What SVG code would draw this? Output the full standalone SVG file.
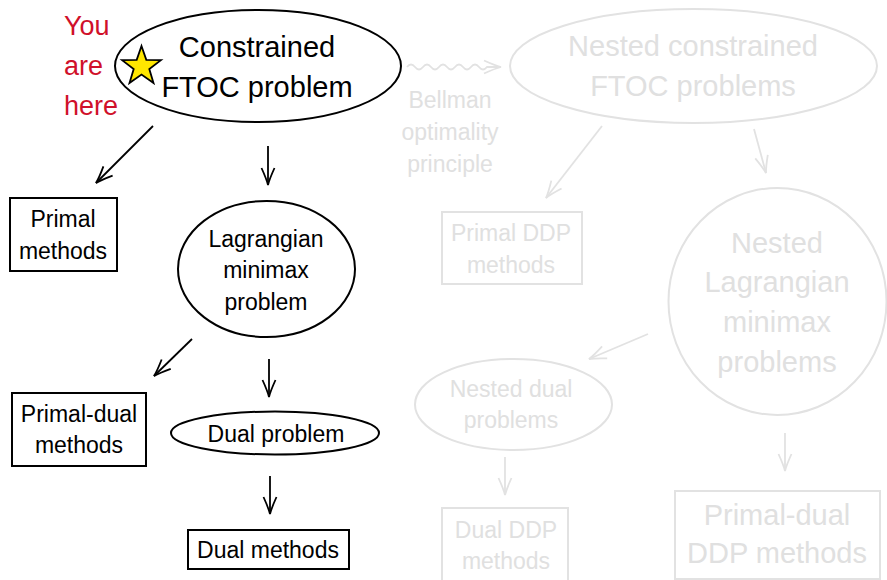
<svg xmlns="http://www.w3.org/2000/svg" width="887" height="580" viewBox="0 0 887 580">
<style>
text{font-family:"Liberation Sans",Arial,sans-serif;text-anchor:middle;}
.b{fill:#000;font-size:23px;}
.B{fill:#000;font-size:29px;}
.g{fill:#e0e0e0;font-size:23px;}
.G{fill:#e0e0e0;font-size:29px;}
.red{fill:#d0102a;font-size:27px;text-anchor:start;}
.sk{fill:#fff;stroke:#000;stroke-width:2;}
.sg{fill:none;stroke:#e2e2e2;stroke-width:2;}
.ak{fill:none;stroke:#000;stroke-width:1.8;marker-end:url(#ak);}
.ag{fill:none;stroke:#e2e2e2;stroke-width:1.8;marker-end:url(#ag);}
</style>
<defs>
<marker id="ak" markerUnits="userSpaceOnUse" viewBox="-18 -9 20 18" refX="0" refY="0" markerWidth="20" markerHeight="18" orient="auto">
<path d="M-17,-6.5 Q-6,-1.5 0,0 Q-6,1.5 -17,6.5" fill="none" stroke="#000" stroke-width="1.8"/>
</marker>
<marker id="ag" markerUnits="userSpaceOnUse" viewBox="-18 -9 20 18" refX="0" refY="0" markerWidth="20" markerHeight="18" orient="auto">
<path d="M-17,-6.5 Q-6,-1.5 0,0 Q-6,1.5 -17,6.5" fill="none" stroke="#e2e2e2" stroke-width="1.8"/>
</marker>
</defs>
<rect width="887" height="580" fill="#fff"/>

<g id="connectors">
<path class="ak" d="M153,126 L96,183"/>
<path class="ak" d="M268,146 L268,185"/>
<path class="ak" d="M192,339 L154,376"/>
<path class="ak" d="M269,359 L269,397"/>
<path class="ak" d="M270,476 L270,514"/>
<path class="ag" d="M407,67 q4,-5 8,0 t8,0 t8,0 t8,0 t8,0 t8,0 t8,0 t8,0 t8,0 t8,0 L501,67"/>
<path class="ag" d="M602,126 L546,198"/>
<path class="ag" d="M754,129 L766,173"/>
<path class="ag" d="M648,334 L589,359"/>
<path class="ag" d="M505,457 L505,495"/>
<path class="ag" d="M785,433 L785,471"/>
</g>

<g id="you-are-here">
<text class="red" x="64" y="35">You</text>
<text class="red" x="64" y="75">are</text>
<text class="red" x="64" y="115">here</text>
</g>

<g id="ftoc">
<ellipse class="sk" cx="258" cy="66" rx="143" ry="56"/>
<polygon points="141.5,46 146.3,59.9 160.9,60.2 149.3,69 153.5,83 141.5,74.6 129.5,83 133.7,69 122.1,60.2 136.7,59.9" fill="#ffe600" stroke="#000" stroke-width="1.8" stroke-linejoin="miter"/>
<text class="B" x="257" y="57">Constrained</text>
<text class="B" x="257" y="97">FTOC problem</text>
</g>

<g id="primal">
<rect class="sk" x="10" y="198" width="107" height="73"/>
<text class="b" x="63" y="227">Primal</text>
<text class="b" x="63" y="259">methods</text>
</g>

<g id="lagrangian">
<ellipse class="sk" cx="266.5" cy="269" rx="88.5" ry="68"/>
<text class="b" x="266" y="247">Lagrangian</text>
<text class="b" x="266" y="278">minimax</text>
<text class="b" x="266" y="310">problem</text>
</g>

<g id="primal-dual">
<rect class="sk" x="12" y="393" width="134" height="73"/>
<text class="b" x="79" y="422">Primal-dual</text>
<text class="b" x="79" y="453">methods</text>
</g>

<g id="dual-problem">
<ellipse class="sk" cx="275" cy="433" rx="104" ry="21.5"/>
<text class="b" x="276" y="442">Dual problem</text>
</g>

<g id="dual-methods">
<rect class="sk" x="188" y="530" width="161" height="39"/>
<text class="b" x="268" y="558">Dual methods</text>
</g>

<g id="bellman">
<text class="g" x="450" y="108">Bellman</text>
<text class="g" x="450" y="140">optimality</text>
<text class="g" x="450" y="172">principle</text>
</g>

<g id="nested-ftoc">
<ellipse class="sg" cx="693.5" cy="66" rx="183.5" ry="57"/>
<text class="G" x="693" y="56">Nested constrained</text>
<text class="G" x="693" y="96">FTOC problems</text>
</g>

<g id="primal-ddp">
<rect class="sg" x="442" y="212" width="140" height="72"/>
<text class="g" x="511" y="241">Primal DDP</text>
<text class="g" x="511" y="273">methods</text>
</g>

<g id="nested-lagrangian">
<ellipse class="sg" cx="777.5" cy="301.5" rx="109" ry="113.5"/>
<text class="G" x="777" y="253">Nested</text>
<text class="G" x="777" y="292">Lagrangian</text>
<text class="G" x="777" y="332">minimax</text>
<text class="G" x="777" y="372">problems</text>
</g>

<g id="nested-dual">
<ellipse class="sg" cx="513.5" cy="404.5" rx="98.5" ry="45.5"/>
<text class="g" x="511" y="397">Nested dual</text>
<text class="g" x="511" y="428">problems</text>
</g>

<g id="dual-ddp">
<rect class="sg" x="442" y="508" width="126" height="76"/>
<text class="g" x="506" y="538">Dual DDP</text>
<text class="g" x="506" y="569">methods</text>
</g>

<g id="primal-dual-ddp">
<rect class="sg" x="675" y="491" width="205" height="88"/>
<text class="G" x="777" y="525">Primal-dual</text>
<text class="G" x="777" y="563">DDP methods</text>
</g>
</svg>
